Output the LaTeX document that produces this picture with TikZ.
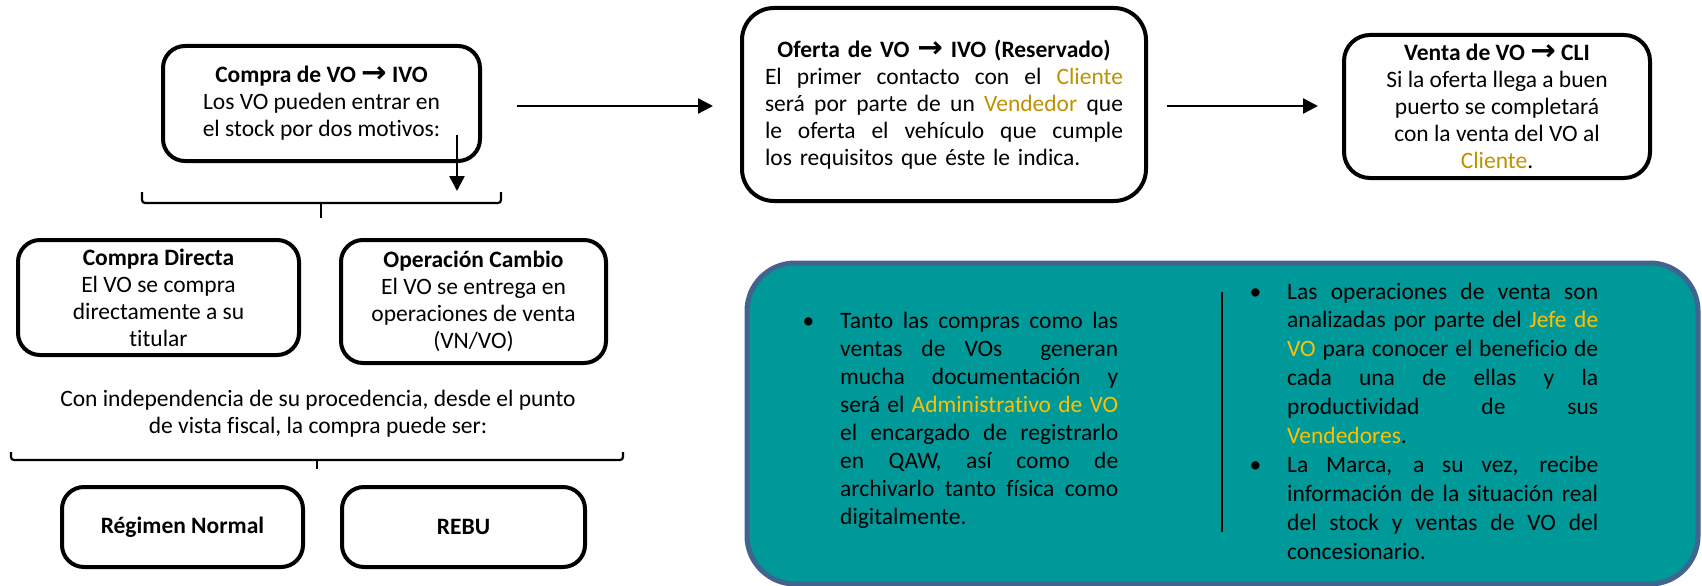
\documentclass[tikz,border=0pt]{standalone}
\usepackage{fontspec}
\setmainfont{Carlito}[Ligatures=NoCommon]
\newfontfamily\dvfont{DejaVu Sans}
\usetikzlibrary{arrows.meta}
\definecolor{gold}{HTML}{BF9000}
\definecolor{yel}{HTML}{FFC000}
\definecolor{tealfill}{HTML}{009999}
\definecolor{tealborder}{HTML}{41648F}
\newcommand\rarr{{\dvfont\bfseries\scalebox{1.3}[1.25]{→}}}
\newcommand\jl[1]{{\spaceskip=0pt\xspaceskip=0pt\makebox[\linewidth][s]{#1}}}
\newcommand\jll[1]{\makebox[\linewidth][l]{#1}}
\newcommand\fs{\fontsize{23.5}{27}\selectfont}
\newcommand\tfsl{\fontsize{23.5}{28}\selectfont}
\newcommand\tfsr{\fontsize{23.5}{28.9}\selectfont}
\newcommand\bul{\leavevmode\llap{•\hspace{26pt}}}
\begin{document}
\begin{tikzpicture}[x=1pt,y=-1pt,
  box/.style={draw=black,line width=4pt,rounded corners=22pt,align=center,inner sep=0pt,font=\fs},
  conn/.style={line width=2.4pt,-{Triangle[length=15pt,width=15pt]}},
  bracket/.style={line width=2.2pt,rounded corners=3pt},
  plain/.style={inner sep=0pt,align=center,font=\fs}]
\useasboundingbox (0,0) rectangle (1702,586);

% top row
\node[box,minimum width=317pt,minimum height=115pt] (compra) at (321.5,103.5)
  {\textbf{Compra de VO \rarr\ IVO}\\Los VO pueden entrar en\\el stock por dos motivos:};
\node[box,rounded corners=32pt,minimum width=404pt,minimum height=193pt,text width=358pt] (oferta) at (944,104.5)
  {\textbf{Oferta de VO \rarr\ IVO (Reservado)}\\
   \jl{El primer contacto con el \textcolor{gold}{Cliente}}\\
   \jl{será por parte de un \textcolor{gold}{Vendedor} que}\\
   \jl{le oferta el vehículo que cumple}\\
   \jll{los requisitos que éste le indica.}};
\node[box,rounded corners=26pt,minimum width=306pt,minimum height=143pt] (venta) at (1497,106.5)
  {\textbf{Venta de VO \rarr\ CLI}\\Si la oferta llega a buen\\puerto se completará\\con la venta del VO al\\\textcolor{gold}{Cliente}.};

\coordinate (a1s) at (517,106);
\coordinate (a1e) at (713,106);
\coordinate (a2s) at (1167,106);
\coordinate (a2e) at (1318,106);
\draw[conn] (a1s) -- (a1e);
\draw[conn] (a2s) -- (a2e);

% down arrow and first bracket
\coordinate (ds) at (457,135);
\coordinate (de) at (457,191);
\draw[conn] (ds) -- (de);
\coordinate (b1l) at (142,192);
\coordinate (b1r) at (501,192);
\coordinate (b1c) at (321,203);
\coordinate (b1t) at (321,218);
\draw[bracket] (b1l) -- (142,203) -- (501,203) -- (b1r);
\draw[bracket] (b1c) -- (b1t);

% second row
\node[box,minimum width=281pt,minimum height=115pt] (directa) at (158.5,297.5)
  {\textbf{Compra Directa}\\El VO se compra\\directamente a su\\titular};
\node[box,minimum width=265pt,minimum height=123pt] (cambio) at (473.5,301.5)
  {\textbf{Operación Cambio}\\El VO se entrega en\\operaciones de venta\\(VN/VO)};

\node[plain] (indep) at (318,413.5)
  {Con independencia de su procedencia, desde el punto\\de vista fiscal, la compra puede ser:};

\coordinate (b2l) at (11,452);
\coordinate (b2r) at (623,452);
\coordinate (b2c) at (317,460);
\coordinate (b2t) at (317,469);
\draw[bracket] (b2l) -- (11,460) -- (623,460) -- (b2r);
\draw[bracket] (b2c) -- (b2t);

\node[box,minimum width=241pt,minimum height=80pt] (normal) at (182.5,527) {\textbf{Régimen Normal}};
\node[box,minimum width=243pt,minimum height=80pt] (rebu) at (463.5,527) {\textbf{REBU}};

% teal panel
\node[draw=tealborder,fill=tealfill,line width=5pt,rounded corners=48pt,
  minimum width=951pt,minimum height=321pt,inner sep=0pt] (panel) at (1222.5,423.5) {};
\coordinate (dvt) at (1222,292);
\coordinate (dvb) at (1222,532);
\draw[line width=2pt] (dvt) -- (dvb);

\node[anchor=base west,text width=278pt,inner sep=0pt,align=left,font=\tfsl] (lefttext) at (840,328)
  {\bul\jl{Tanto las compras como las}\\
   \jl{ventas de VOs\ \ generan}\\
   \jl{mucha documentación y}\\
   \jl{será el \textcolor{yel}{Administrativo de VO}}\\
   \jl{el encargado de registrarlo}\\
   \jl{en QAW, así como de}\\
   \jl{archivarlo tanto física como}\\
   digitalmente.};
\node[anchor=base west,text width=311pt,inner sep=0pt,align=left,font=\tfsr] (righttext) at (1287,299)
  {\bul\jl{Las operaciones de venta son}\\
   \jl{analizadas por parte del \textcolor{yel}{Jefe de}}\\
   \jl{\textcolor{yel}{VO} para conocer el beneficio de}\\
   \jl{cada una de ellas y la}\\
   \jl{productividad de sus}\\
   \textcolor{yel}{Vendedores}.\\
   \bul\jl{La Marca, a su vez, recibe}\\
   \jl{información de la situación real}\\
   \jl{del stock y ventas de VO del}\\
   concesionario.};
\end{tikzpicture}
\end{document}
